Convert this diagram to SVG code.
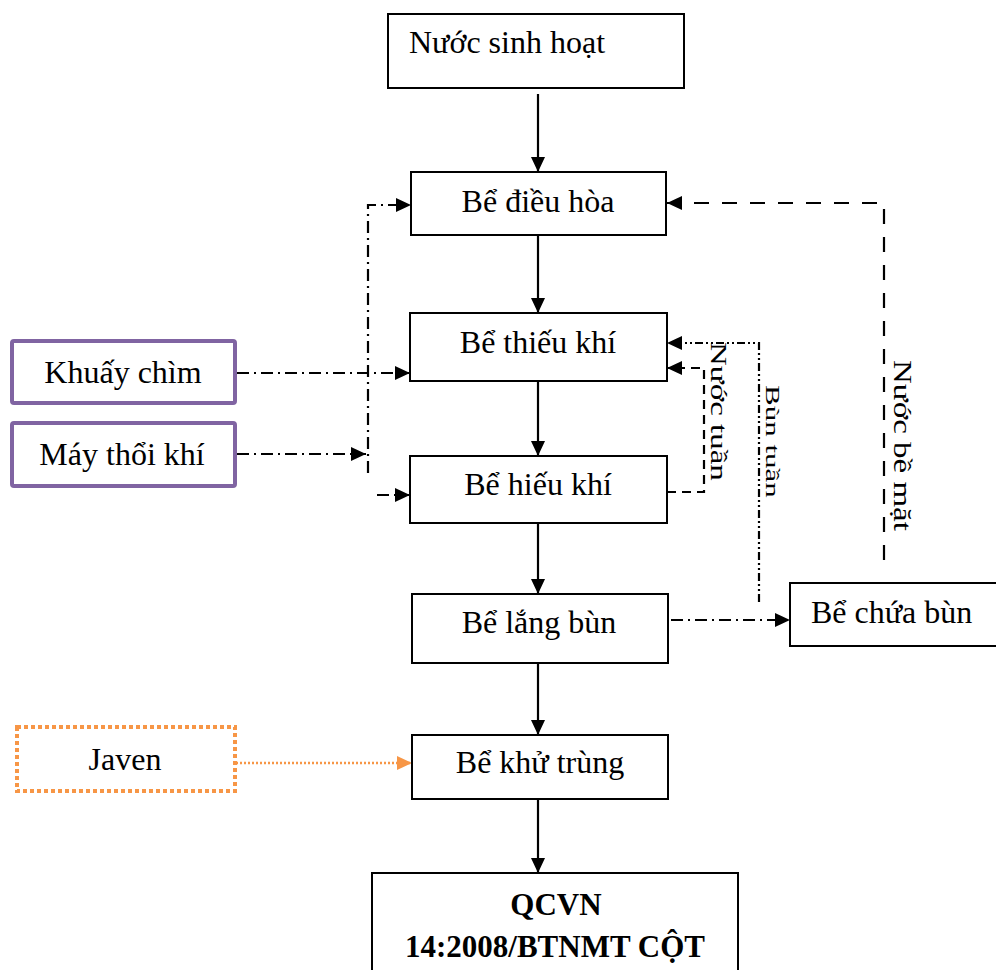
<svg xmlns="http://www.w3.org/2000/svg" width="996" height="970" viewBox="0 0 996 970">
  <style>
    .box { fill: #ffffff; stroke: #000000; stroke-width: 2; }
    .aux { fill: #ffffff; stroke: #8064A2; stroke-width: 4; }
    .dose { fill: #ffffff; stroke: #F79646; stroke-width: 4; stroke-dasharray: 4 3; }
    .lbl { font-family: "Liberation Serif", "Times New Roman", serif; font-size: 32px; fill: #000000; }
    .mid { text-anchor: middle; }
    .bold { font-weight: bold; font-size: 31px; }
    .flow { fill: none; stroke: #000000; stroke-width: 2.2; }
    .dashdot { stroke-dasharray: 12 5 2 5; }
    .dash { stroke-dasharray: 15 13; }
    .shortdash { stroke-dasharray: 9 6; }
    .dashdotdot { stroke-dasharray: 8 3 2 3 2 3; }
    .dose-line { fill: none; stroke: #F79646; stroke-width: 2.5; stroke-dasharray: 2 2; }
  </style>
  <defs>
    <marker id="arrow" viewBox="0 0 15 14" refX="15" refY="7" markerWidth="15" markerHeight="14" markerUnits="userSpaceOnUse" orient="auto">
      <path d="M0,0 L15,7 L0,14 Z" fill="#000000"/>
    </marker>
    <marker id="arrow-orange" viewBox="0 0 15 14" refX="15" refY="7" markerWidth="15" markerHeight="14" markerUnits="userSpaceOnUse" orient="auto">
      <path d="M0,0 L15,7 L0,14 Z" fill="#F79646"/>
    </marker>
  </defs>

  <!-- connectors -->
  <g id="connectors">
    <!-- main treatment line -->
    <path class="flow" d="M538,94 V172" marker-end="url(#arrow)"/>
    <path class="flow" d="M538,236 V313" marker-end="url(#arrow)"/>
    <path class="flow" d="M538,382 V456" marker-end="url(#arrow)"/>
    <path class="flow" d="M538,524 V594" marker-end="url(#arrow)"/>
    <path class="flow" d="M538,664 V735" marker-end="url(#arrow)"/>
    <path class="flow" d="M538,800 V873" marker-end="url(#arrow)"/>

    <!-- air / mixing feeds -->
    <path class="flow dashdot" d="M368,473 V205 H411" marker-end="url(#arrow)"/>
    <path class="flow dashdot" d="M237,373 H410" marker-end="url(#arrow)"/>
    <path class="flow dashdot" d="M237,454 H366" marker-end="url(#arrow)"/>
    <path class="flow dashdot" d="M377,495 H410" marker-end="url(#arrow)"/>

    <!-- returns -->
    <path class="flow dash" d="M884,560 V203 H667" marker-end="url(#arrow)"/>
    <path class="flow dashdotdot" d="M759,602 V343 H667" marker-end="url(#arrow)"/>
    <path class="flow shortdash" d="M667,492 H704 V368 H667" marker-end="url(#arrow)"/>

    <!-- sludge out -->
    <path class="flow dashdot" d="M671,620 H790" marker-end="url(#arrow)"/>

    <!-- disinfectant dosing -->
    <path class="dose-line" d="M236,763 H412" marker-end="url(#arrow-orange)"/>

    <!-- line labels -->
    <text class="lbl" style="font-size:33px" transform="translate(894,360) rotate(90) scale(1,0.76)">Nước bề mặt</text>
    <text class="lbl" style="font-size:31px" transform="translate(766,385) rotate(90) scale(1,0.62)">Bùn tuần</text>
    <text class="lbl" style="font-size:33px" transform="translate(711,342) rotate(90) scale(1,0.68)">Nước tuần</text>
  </g>

  <!-- nodes -->
  <g id="nuoc-sinh-hoat">
    <rect class="box" x="388" y="14" width="296" height="74"/>
    <text class="lbl" x="409" y="53">Nước sinh hoạt</text>
  </g>
  <g id="be-dieu-hoa">
    <rect class="box" x="411" y="172" width="255" height="63"/>
    <text class="lbl mid" x="538" y="212">Bể điều hòa</text>
  </g>
  <g id="be-thieu-khi">
    <rect class="box" x="410" y="313" width="257" height="68"/>
    <text class="lbl mid" x="538" y="353">Bể thiếu khí</text>
  </g>
  <g id="be-hieu-khi">
    <rect class="box" x="410" y="456" width="257" height="67"/>
    <text class="lbl mid" x="538" y="495">Bể hiếu khí</text>
  </g>
  <g id="be-lang-bun">
    <rect class="box" x="412" y="594" width="256" height="69"/>
    <text class="lbl mid" x="539" y="633">Bể lắng bùn</text>
  </g>
  <g id="be-chua-bun">
    <rect class="box" x="790" y="583" width="210" height="63"/>
    <text class="lbl" x="811" y="623">Bể chứa bùn</text>
  </g>
  <g id="be-khu-trung">
    <rect class="box" x="412" y="735" width="256" height="64"/>
    <text class="lbl mid" x="540" y="773">Bể khử trùng</text>
  </g>
  <g id="qcvn">
    <rect class="box" x="372" y="873" width="366" height="110"/>
    <text class="lbl mid bold" x="556" y="915">QCVN</text>
    <text class="lbl mid bold" x="555" y="957">14:2008/BTNMT CỘT</text>
  </g>
  <g id="khuay-chim">
    <rect class="aux" x="12" y="341" width="223" height="62" rx="2"/>
    <text class="lbl mid" x="123" y="383">Khuấy chìm</text>
  </g>
  <g id="may-thoi-khi">
    <rect class="aux" x="12" y="423" width="223" height="63" rx="2"/>
    <text class="lbl mid" x="122" y="465">Máy thổi khí</text>
  </g>
  <g id="javen">
    <rect class="dose" x="17" y="727" width="218" height="64"/>
    <text class="lbl mid" x="125" y="770">Javen</text>
  </g>
</svg>
